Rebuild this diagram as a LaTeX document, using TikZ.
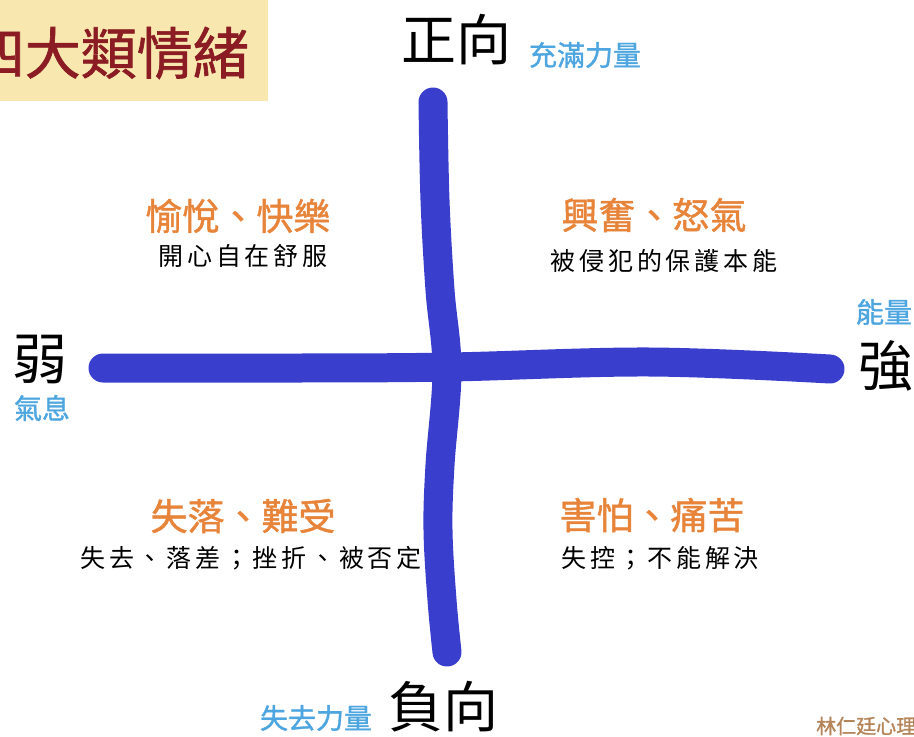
\documentclass[tikz,border=0pt]{standalone}
\usepackage{fontspec}
\setmainfont{Noto Sans CJK TC}
\newfontfamily\cjkspaced[LetterSpace=15]{Noto Sans CJK TC}
\newfontfamily\cjkheavy[FakeBold=1.2]{Noto Sans CJK TC}
\definecolor{titlebg}{HTML}{F8E8B0}
\definecolor{titlefg}{HTML}{8B1C24}
\definecolor{sublabel}{HTML}{4EA6E0}
\definecolor{quadtitle}{HTML}{E8843A}
\definecolor{credit}{HTML}{B58459}
\definecolor{strokeblue}{HTML}{3A3ECC}
\tikzset{
  pole/.style={text=black, inner sep=0pt, font=\fontsize{55}{60}\selectfont},
  polesub/.style={text=sublabel, inner sep=0pt, font=\cjkheavy\fontsize{28}{32}\selectfont},
  quadhead/.style={text=quadtitle, inner sep=0pt, font=\cjkheavy\fontsize{37}{42}\selectfont},
  quadbody/.style={text=black, inner sep=0pt, font=\cjkspaced\fontsize{25}{30}\selectfont},
  axisstroke/.style={draw=strokeblue, line width=29pt, line cap=round, line join=round}
}
\begin{document}
\begin{tikzpicture}[x=1pt,y=-1pt]
\useasboundingbox (0,0) rectangle (914,737);
\clip (0,0) rectangle (914,737);
\fill[white] (0,0) rectangle (914,737);
% title
\fill[titlebg] (-10,-5) rectangle (268,101);
\node[anchor=east, text=titlefg, inner sep=0pt, font=\cjkheavy\fontsize{56}{60}\selectfont] (title) at (249,53) {四大類情緒};
% axes
\draw[axisstroke] plot[smooth, tension=0.6] coordinates {(433,102) (435,200) (440,290) (447,370) (440,465) (438,530) (442,600) (447,652)};
\draw[axisstroke] plot[smooth, tension=0.6] coordinates {(103,368) (300,368) (450,367) (650,362) (830,369)};
% poles
\node[pole] (pos) at (456,40) {正向};
\node[polesub] (possub) at (585,55) {充滿力量};
\node[pole] (neg) at (443,707) {負向};
\node[polesub] (negsub) at (316,718) {失去力量};
\node[pole] (weak) at (40,360) {弱};
\node[polesub] (weaksub) at (42,408) {氣息};
\node[pole] (strong) at (886,366) {強};
\node[polesub] (strongsub) at (884,312) {能量};
% quadrants
\node[quadhead] (q1h) at (238,216) {愉悅、快樂};
\node[quadbody] (q1b) at (243,256) {開心自在舒服};
\node[quadhead] (q2h) at (654,215) {興奮、怒氣};
\node[quadbody] (q2b) at (664,261) {被侵犯的保護本能};
\node[quadhead] (q3h) at (243,516) {失落、難受};
\node[quadbody] (q3b) at (251,558) {失去、落差；挫折、被否定};
\node[quadhead] (q4h) at (652,515) {害怕、痛苦};
\node[quadbody] (q4b) at (660,558) {失控；不能解決};
% credit
\node[anchor=west, text=credit, inner sep=0pt, font=\cjkheavy\fontsize{20}{24}\selectfont] (credit) at (816,726) {林仁廷心理};
\end{tikzpicture}
\end{document}
